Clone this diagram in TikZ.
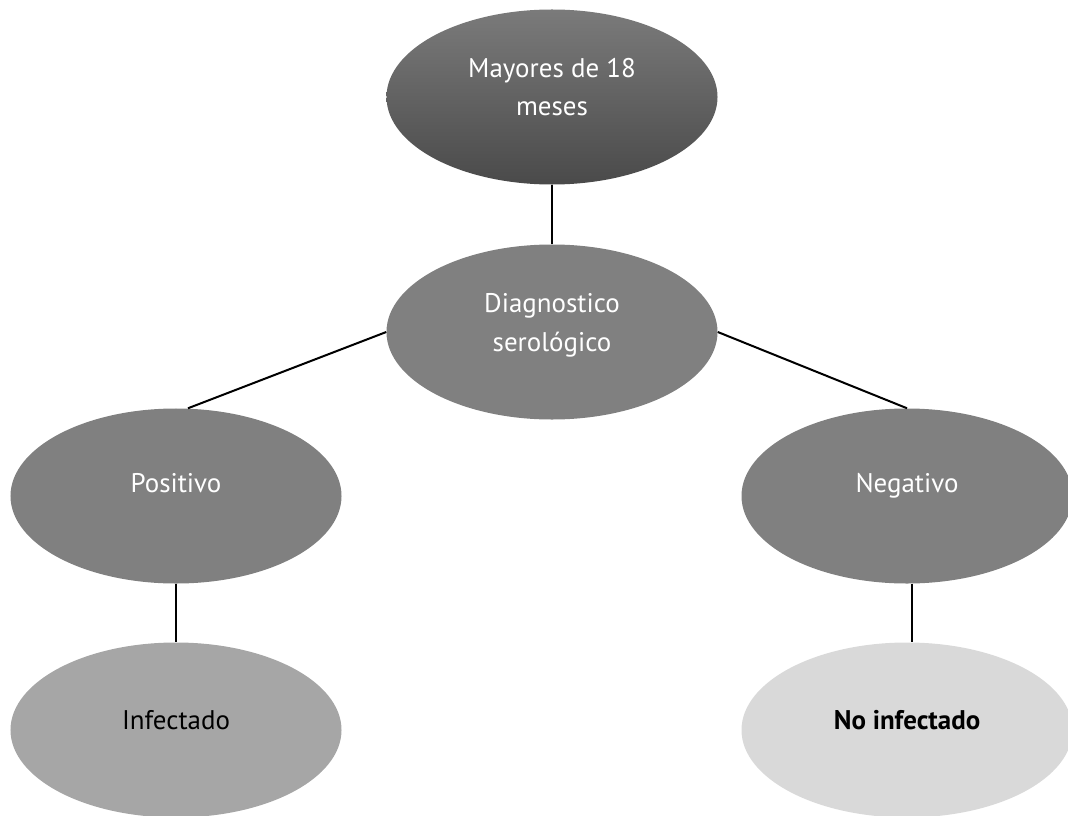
\documentclass[tikz,border=0pt]{standalone}
\usepackage{fontspec}
\setmainfont{PT Sans}
\usetikzlibrary{shapes.geometric}
\usetikzlibrary{positioning}
\tikzset{x=0.03cm,y=-0.03cm,
    bubble/.style={
        ellipse,
        draw=none,
        inner sep=0pt,
        minimum width=9.93cm,
        minimum height=5.25cm},
    caption/.style={
        align=center,
        text=white,
        font=\fontsize{23}{33}\selectfont},
    link/.style={
        draw,
        line width=0.06cm}}
\begin{document}
\begin{tikzpicture}
        \useasboundingbox (0,0) rectangle (1068,816);

        \node[bubble,top color=black!52,bottom color=black!71] (edad) at (552,97) {};
        \node[bubble,fill=black!50] (sero) at (552,332) {};
        \node[bubble,fill=black!50] (pos) at (176,496) {};
        \node[bubble,fill=black!50] (neg) at (907,496) {};
        \node[bubble,fill=black!35] (inf) at (176,730) {};
        \node[bubble,fill=black!15] (noinf) at (907,730) {};

        % textos
        \node[caption] (tedad) at ([yshift=0.3cm]edad.center) {Mayores de 18\\meses};
        \node[caption] (tsero) at ([yshift=0.21cm]sero.center) {Diagnostico\\serológico};
        \node[caption] (tpos) at ([yshift=0.39cm]pos.center) {Positivo};
        \node[caption] (tneg) at ([yshift=0.3cm]neg.center) {Negativo};
        \node[caption,text=black] (tinf) at ([yshift=0.3cm]inf.center) {Infectado};
        \node[caption,text=black,font=\fontsize{23}{33}\selectfont\bfseries] (tnoinf) at ([yshift=0.3cm]noinf.center) {No infectado};

        \draw[link] (edad) -- (sero);
        \draw[link] (sero.west) -- ([xshift=0.36cm]pos.north);
        \draw[link] (sero.east) -- (neg.north);
        \draw[link] (pos) -- (inf);
        \draw[link] ([xshift=0.15cm]neg.south) -- ([xshift=0.15cm]noinf.north);
    \end{tikzpicture}
\end{document}
